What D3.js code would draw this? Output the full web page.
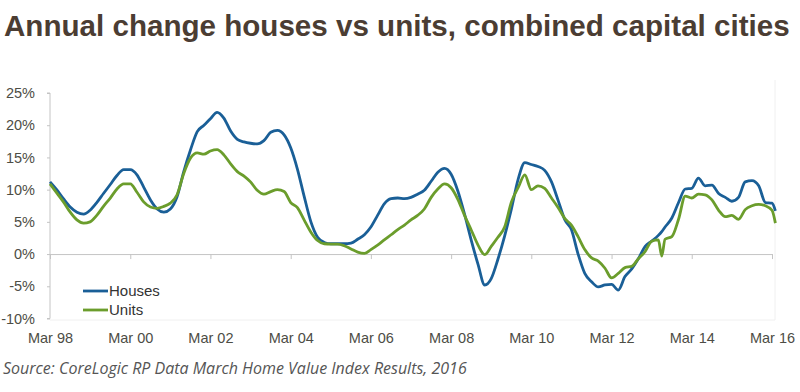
<!DOCTYPE html>
<html><head><meta charset="utf-8">
<script src="https://cdn.jsdelivr.net/npm/d3@7"></script>
<style>body{margin:0;background:#fff}svg{display:block}</style>
</head><body><svg id="c" width="800" height="392"></svg>
<script>
const months = ["1998-03","1998-05","1998-07","1998-09","1998-11","1999-01","1999-03","1999-05","1999-07","1999-09","1999-11",
"2000-01","2000-03","2000-05","2000-07","2000-09","2000-11","2001-01","2001-03","2001-05","2001-07","2001-09","2001-11",
"2002-01","2002-03","2002-05","2002-07","2002-09","2002-11","2003-01","2003-03","2003-05","2003-07","2003-09","2003-11",
"2004-01","2004-03","2004-05","2004-07","2004-09","2004-11","2005-01","2005-03","2005-05","2005-07","2005-09","2005-11",
"2006-01","2006-03","2006-05","2006-07","2006-09","2006-11","2007-01","2007-03","2007-05","2007-07","2007-09","2007-11",
"2008-01","2008-03","2008-05","2008-07","2008-09","2008-11","2009-01","2009-03","2009-05","2009-07","2009-09","2009-11",
"2010-01","2010-03","2010-05","2010-07","2010-09","2010-11","2011-01","2011-03","2011-05","2011-07","2011-09","2011-11",
"2012-01","2012-03","2012-05","2012-07","2012-09","2012-11","2013-01","2013-03","2013-05","2013-06","2013-07","2013-09","2013-11",
"2014-01","2014-03","2014-05","2014-07","2014-09","2014-11","2015-01","2015-03","2015-05","2015-07","2015-09","2015-11",
"2016-01","2016-03","2016-04"];
const houses = [11.2,10.0,8.6,7.3,6.5,6.2,6.8,8.0,9.4,10.8,12.2,
13.1,13.1,12.3,10.4,8.4,7.0,6.5,7.0,8.9,12.8,16.2,19.0,
20.0,21.0,22.0,21.1,19.1,17.8,17.4,17.2,17.1,17.6,18.9,19.2,
18.5,16.5,13.2,9.0,5.0,2.6,1.8,1.6,1.6,1.6,1.7,2.3,
3.0,4.2,6.0,7.8,8.6,8.7,8.6,8.8,9.3,9.9,11.3,12.7,
13.3,12.4,9.8,6.2,2.1,-1.6,-4.8,-3.8,-0.8,2.8,7.0,11.6,
14.2,13.9,13.6,13.0,11.2,8.3,5.3,3.8,0.0,-3.0,-4.3,-5.1,
-4.8,-4.7,-5.6,-3.5,-2.3,-0.7,1.2,2.0,2.9,3.5,4.2,5.6,8.0,
10.1,10.2,11.8,10.6,10.7,9.4,8.8,8.2,8.8,11.2,11.4,10.6,
8.0,7.9,6.7];
const units = [10.9,9.5,8.1,6.5,5.3,4.8,5.0,6.0,7.4,8.7,10.1,
10.9,10.9,9.6,8.1,7.3,7.1,7.4,7.9,9.2,12.5,14.9,15.7,
15.5,16.0,16.2,15.4,14.0,12.8,12.1,11.2,9.9,9.3,9.7,10.0,
9.7,8.0,7.2,5.3,3.4,2.1,1.6,1.55,1.55,1.3,0.8,0.3,
0.1,0.7,1.4,2.2,3.0,3.8,4.5,5.3,6.0,7.0,8.8,10.1,
10.9,10.3,8.5,6.0,3.7,1.4,-0.1,1.2,2.6,4.2,8.1,10.3,
12.3,10.0,10.6,10.2,8.7,7.2,5.5,4.5,2.7,0.7,-0.6,-1.1,
-2.2,-3.7,-3.0,-2.1,-1.9,-0.7,0.4,2.0,2.2,-0.3,2.3,2.7,5.4,
9.0,8.7,9.3,9.2,8.4,6.8,5.8,6.0,5.4,6.9,7.5,7.7,
7.5,6.8,4.8];
const xTickDates = ["1998-03","2000-03","2002-03","2004-03","2006-03","2008-03","2010-03","2012-03","2014-03","2016-03"];
const xTickLabels = ["Mar 98","Mar 00","Mar 02","Mar 04","Mar 06","Mar 08","Mar 10","Mar 12","Mar 14","Mar 16"];
const yTicks = [-10,-5,0,5,10,15,20,25];
const seriesNames = ["Houses","Units"];
const seriesColors = ["#1a5f97","#6b9d2c"];

const parse = d3.timeParse("%Y-%m");
const svg = d3.select("#c");
const x = d3.scaleTime().domain([parse("1998-03"), parse("2016-03")]).range([50, 772]);
const y = d3.scaleLinear().domain([-10, 25]).range([318.5, 93]);

const title = svg.append("text").attr("x",4).attr("y",36)
  .attr("font-family","Liberation Sans, Arial, sans-serif").attr("font-weight","bold")
  .attr("font-size",27).attr("fill","#4b3d33")
  .text("Annual change houses vs units, combined capital cities");
const tw = title.node().getComputedTextLength();
title.attr("font-size", 27 * 786 / tw);

// faint frame
svg.append("line").attr("x1",775).attr("x2",775).attr("y1",80).attr("y2",320).attr("stroke","#f0f0f0");
svg.append("line").attr("x1",50).attr("x2",775).attr("y1",320).attr("y2",320).attr("stroke","#f0f0f0");

// y axis
const yAxis = svg.append("g").attr("transform","translate(50,0)")
  .call(d3.axisLeft(y).tickValues(yTicks).tickFormat(d=>d+"%").tickSize(3).tickPadding(12));
yAxis.select(".domain").attr("stroke","#c4c4c4").attr("d","M-3,"+y(25)+"H0V"+y(-10)+"H-3");
yAxis.selectAll(".tick line").attr("stroke","#c4c4c4");
yAxis.selectAll(".tick text").attr("font-family","Liberation Sans, Arial, sans-serif").attr("font-size",14.5).attr("fill","#4d4d45");

// x axis at zero
const xAxis = svg.append("g").attr("transform","translate(0,"+y(0)+")")
  .call(d3.axisBottom(x).tickValues(xTickDates.map(parse)).tickFormat("").tickSize(5).tickSizeOuter(0));
xAxis.select(".domain").attr("stroke","#c4c4c4");
xAxis.selectAll(".tick line").attr("stroke","#c4c4c4");

// x labels at bottom
const xLab = svg.append("g").attr("transform","translate(0,323)")
  .call(d3.axisBottom(x).tickValues(xTickDates.map(parse)).tickFormat((d,i)=>xTickLabels[i]).tickSize(0).tickPadding(10));
xLab.select(".domain").remove();
xLab.selectAll(".tick text").attr("font-family","Liberation Sans, Arial, sans-serif").attr("font-size",14.5).attr("fill","#4d4d45");

const line = d3.line().x((d,i)=>x(parse(months[i]))).y(d=>y(d)).curve(d3.curveMonotoneX);
[houses, units].forEach((s,k)=>{
  svg.append("path").datum(s).attr("d",line).attr("fill","none")
    .attr("stroke",seriesColors[k]).attr("stroke-width",2.8).attr("stroke-linejoin","round");
});

// legend
seriesNames.forEach((n,k)=>{
  const ly = 291 + k*19;
  svg.append("line").attr("x1",83).attr("x2",108).attr("y1",ly).attr("y2",ly)
    .attr("stroke",seriesColors[k]).attr("stroke-width",2.8);
  svg.append("text").attr("x",109).attr("y",ly+5).attr("font-family","Liberation Sans, Arial, sans-serif")
    .attr("font-size",15).attr("fill","#333").text(n);
});

svg.append("text").attr("x",3).attr("y",374)
  .attr("font-family","Open Sans, sans-serif").attr("font-style","italic")
  .attr("font-size",16).attr("fill","#555")
  .text("Source: CoreLogic RP Data March Home Value Index Results, 2016");
</script></body></html>
